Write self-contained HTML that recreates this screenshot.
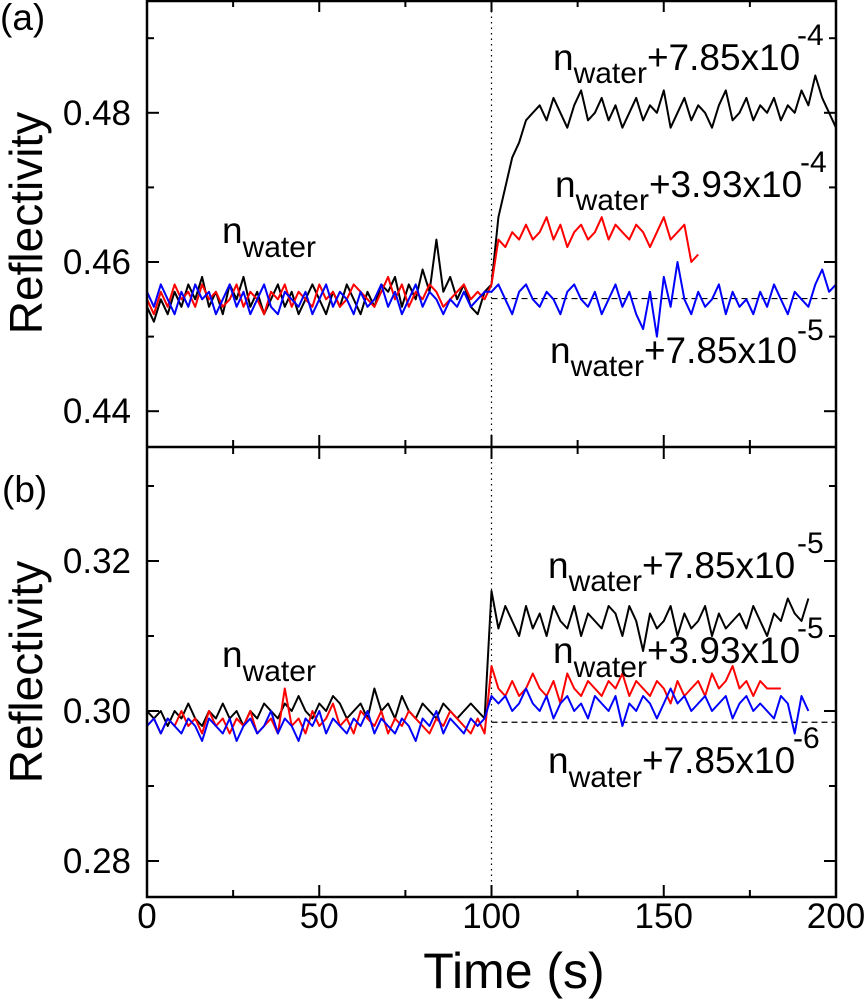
<!DOCTYPE html>
<html><head><meta charset="utf-8"><style>
body{margin:0;background:#fff}
svg{display:block;font-family:"Liberation Sans",Arial,sans-serif}
</style></head><body>
<svg id="chart" width="864" height="1000" viewBox="0 0 864 1000" xmlns="http://www.w3.org/2000/svg">
<g id="marks"></g>
<g id="axes"></g>
<g id="labels" font-size="37" fill="#000">
<text x="0" y="30" font-size="37">(a)</text>
<text x="2" y="502" font-size="37">(b)</text>
<text transform="translate(42,223) rotate(-90)" text-anchor="middle" font-size="46">Reflectivity</text>
<text transform="translate(42,672) rotate(-90)" text-anchor="middle" font-size="46">Reflectivity</text>
<text x="514" y="988" text-anchor="middle" font-size="50">Time (s)</text>

<text x="222" y="243">n<tspan font-size="30" dy="14">water</tspan></text>
<text x="553" y="70">n<tspan font-size="30" dy="13">water</tspan><tspan dy="-13">+7.85x10</tspan></text>
<text x="797" y="45" font-size="30">-4</text>
<text x="555" y="197">n<tspan font-size="30" dy="13">water</tspan><tspan dy="-13">+3.93x10</tspan></text>
<text x="800" y="172" font-size="30">-4</text>
<text x="550" y="363">n<tspan font-size="30" dy="13">water</tspan><tspan dy="-13">+7.85x10</tspan></text>
<text x="797" y="340" font-size="30">-5</text>

<text x="222" y="667">n<tspan font-size="30" dy="14">water</tspan></text>
<text x="548" y="578">n<tspan font-size="30" dy="13">water</tspan><tspan dy="-13">+7.85x10</tspan></text>
<text x="797" y="553" font-size="30">-5</text>
<text x="553" y="663">n<tspan font-size="30" dy="14">water</tspan><tspan dy="-14">+3.93x10</tspan></text>
<text x="797" y="638" font-size="30">-5</text>
<text x="548" y="773">n<tspan font-size="30" dy="14">water</tspan><tspan dy="-14">+7.85x10</tspan></text>
<text x="793" y="748" font-size="30">-6</text>
</g>
</svg>
<script>
const timeStep = 2;
const xTicks = [0, 50, 100, 150, 200];
const yTicksA = [0.44, 0.46, 0.48];
const yTicksB = [0.28, 0.30, 0.32];
const baselineA = 0.4551;
const baselineB = 0.2985;
const stepTime = 100;

const topBlack = [.454,.452,.455,.453,.456,.454,.457,.455,.458,.454,.456,.453,.457,.455,.458,.454,.456,.453,.455,.457,.454,.456,.453,.455,.457,.455,.453,.456,.454,.457,.455,.453,.456,.454,.457,.456,.458,.454,.457,.455,.459,.456,.463,.456,.458,.455,.457,.454,.453,.456,
.457,.466,.470,.474,.476,.479,.480,.481,.479,.482,.480,.478,.481,.483,.479,.480,.482,.479,.481,.478,.480,.482,.479,.481,.480,.483,.478,.480,.482,.479,.481,.480,.478,.481,.483,.479,.480,.482,.479,.481,.480,.482,.479,.481,.480,.483,.481,.485,.482,.480,.478];
const topRed = [.455,.453,.456,.454,.457,.455,.456,.454,.457,.455,.456,.454,.455,.457,.454,.456,.455,.453,.456,.455,.457,.454,.456,.455,.454,.457,.455,.456,.454,.455,.457,.456,.455,.454,.456,.458,.455,.457,.454,.456,.455,.457,.456,.454,.455,.456,.457,.455,.456,.455,
.457,.463,.462,.464,.463,.465,.463,.464,.466,.463,.465,.462,.464,.465,.463,.464,.466,.463,.465,.464,.463,.465,.464,.462,.464,.466,.463,.464,.465,.460,.461];
const topBlue = [.456,.454,.457,.455,.453,.456,.454,.457,.455,.456,.453,.455,.457,.454,.456,.453,.455,.457,.454,.453,.456,.455,.454,.456,.453,.455,.457,.454,.456,.455,.453,.456,.454,.455,.457,.454,.456,.453,.455,.457,.454,.456,.455,.453,.455,.454,.456,.454,.455,.456,
.456,.457,.455,.453,.456,.457,.455,.454,.456,.455,.453,.456,.457,.455,.454,.456,.453,.455,.457,.454,.456,.453,.451,.456,.450,.458,.454,.460,.455,.453,.456,.454,.455,.457,.453,.456,.454,.455,.453,.456,.454,.457,.455,.453,.456,.455,.454,.457,.459,.456,.457];
const botBlack = [.300,.299,.300,.298,.300,.299,.301,.299,.298,.300,.299,.301,.299,.300,.298,.300,.299,.301,.300,.299,.301,.300,.302,.300,.299,.301,.300,.302,.301,.299,.300,.301,.299,.303,.300,.301,.299,.302,.300,.299,.301,.300,.299,.301,.300,.299,.300,.301,.300,.299,
.316,.311,.314,.312,.310,.314,.311,.313,.310,.314,.312,.311,.314,.310,.313,.312,.311,.314,.313,.310,.314,.312,.308,.313,.311,.312,.314,.310,.313,.311,.312,.314,.310,.313,.311,.312,.313,.311,.314,.312,.310,.313,.312,.315,.313,.312,.315];
const botRed = [.298,.299,.297,.299,.298,.300,.298,.299,.297,.300,.298,.299,.297,.299,.298,.300,.297,.298,.299,.297,.303,.298,.299,.297,.300,.298,.299,.301,.298,.299,.297,.300,.299,.298,.300,.297,.299,.298,.300,.299,.298,.297,.299,.298,.300,.299,.298,.297,.299,.297,
.306,.303,.302,.304,.302,.303,.305,.303,.302,.304,.301,.305,.303,.302,.304,.303,.302,.304,.303,.305,.302,.304,.303,.302,.304,.303,.301,.304,.302,.303,.304,.302,.305,.303,.304,.306,.303,.304,.302,.304,.303,.303,.303];
const botBlue = [.298,.299,.297,.299,.298,.297,.299,.298,.296,.299,.298,.297,.299,.296,.298,.299,.297,.298,.300,.297,.299,.298,.296,.299,.298,.300,.297,.299,.298,.297,.299,.298,.300,.297,.299,.298,.297,.299,.298,.296,.299,.298,.300,.297,.299,.298,.297,.299,.298,.299,
.302,.301,.302,.300,.301,.303,.301,.300,.302,.299,.301,.302,.300,.301,.299,.302,.301,.300,.302,.298,.301,.300,.302,.301,.299,.301,.303,.301,.302,.300,.301,.302,.300,.301,.302,.299,.301,.302,.300,.301,.300,.299,.302,.301,.297,.302,.300];

const NS = "http://www.w3.org/2000/svg";
const L = 147, R = 836, TA = 0, SEP = 447, BB = 897;
function xs(t){ return L + (t - 0) / 200 * (R - L); }
function ysA(v){ return 262 + (0.46 - v) * 7460; }
function ysB(v){ return 711 + (0.30 - v) * 7500; }
function mk(tag, attrs, parent){
  const e = document.createElementNS(NS, tag);
  for (const k in attrs) e.setAttribute(k, attrs[k]);
  parent.appendChild(e); return e;
}
const marks = document.getElementById('marks');
const axes = document.getElementById('axes');

function series(vals, ys, color, name){
  let d = '';
  vals.forEach((v, i) => { d += (i ? 'L' : 'M') + xs(i * timeStep).toFixed(1) + ' ' + ys(v).toFixed(1); });
  const p = mk('path', {d: d, fill: 'none', stroke: color, 'stroke-width': 2, 'stroke-linejoin': 'round'}, marks);
  
  
}
let bl = mk('line', {x1: xs(stepTime), x2: R, y1: ysA(baselineA), y2: ysA(baselineA), stroke: '#000', 'stroke-width': 1.2, 'stroke-dasharray': '6 4'}, marks);


bl = mk('line', {x1: xs(stepTime), x2: R, y1: ysB(baselineB), y2: ysB(baselineB), stroke: '#000', 'stroke-width': 1.2, 'stroke-dasharray': '6 4'}, marks);


let vl = mk('line', {x1: xs(stepTime), x2: xs(stepTime), y1: TA, y2: BB, stroke: '#000', 'stroke-width': 1.2, 'stroke-dasharray': '1.5 4'}, marks);



series(topBlack, ysA, '#000', 'series-a-785e-4');
series(topRed, ysA, '#f00', 'series-a-393e-4');
series(topBlue, ysA, '#00f', 'series-a-785e-5');
series(botBlack, ysB, '#000', 'series-b-785e-5');
series(botRed, ysB, '#f00', 'series-b-393e-5');
series(botBlue, ysB, '#00f', 'series-b-785e-6');

let f = mk('rect', {x: L, y: 1, width: R - L, height: BB - 1, fill: 'none', stroke: '#000', 'stroke-width': 2.5}, axes);


f = mk('line', {x1: L, x2: R, y1: SEP, y2: SEP, stroke: '#000', 'stroke-width': 2.5}, axes);



for (let t = 0; t <= 200; t += 25) {
  const major = t % 50 === 0, len = major ? 12 : 7, x = xs(t);
  [[TA, 1], [SEP, -1], [SEP, 1], [BB, -1]].forEach(([y0, dir]) => {
    const tk = mk('line', {x1: x, x2: x, y1: y0, y2: y0 + dir * len, stroke: '#000', 'stroke-width': 2}, axes);
    
    
  });
}
xTicks.forEach(t => {
  const tx = mk('text', {x: xs(t), y: 928, 'text-anchor': 'middle', 'font-size': 35}, axes);
  tx.textContent = t;
  
  
});
function yTicks(ys, lo, hi){
  for (let k = Math.round(lo * 100); k <= Math.round(hi * 100); k++) {
    const y = ys(k / 100), len = k % 2 === 0 ? 12 : 7;
    [[L, 1], [R, -1]].forEach(([x0, dir]) => {
      const tk = mk('line', {x1: x0, x2: x0 + dir * len, y1: y, y2: y, stroke: '#000', 'stroke-width': 2}, axes);
      
      
    });
  }
}
yTicks(ysA, 0.44, 0.49);
yTicks(ysB, 0.28, 0.33);
yTicksA.forEach(v => {
  const tx = mk('text', {x: 131, y: ysA(v) + 12, 'text-anchor': 'end', 'font-size': 35}, axes);
  tx.textContent = v.toFixed(2);
  
  
});
yTicksB.forEach(v => {
  const tx = mk('text', {x: 131, y: ysB(v) + 12, 'text-anchor': 'end', 'font-size': 35}, axes);
  tx.textContent = v.toFixed(2);
  
  
});
</script>
</body></html>
